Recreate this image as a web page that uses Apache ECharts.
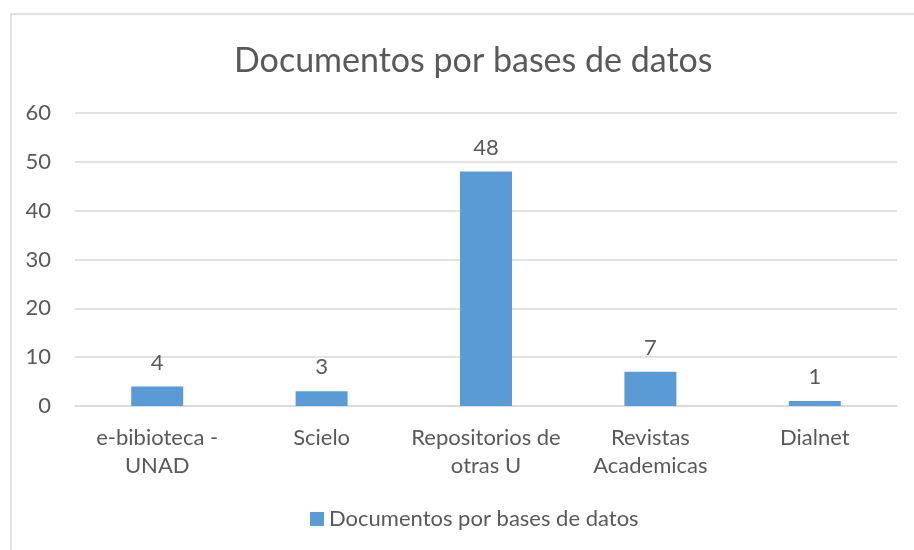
<!DOCTYPE html>
<html><head><meta charset="utf-8">
<script src="https://cdn.jsdelivr.net/npm/echarts@6/dist/echarts.min.js"></script>
<style>html,body{margin:0;padding:0;background:#fff}#c{width:914px;height:550px}</style>
</head><body><div id="c"></div>
<script>
const categories = ['e-bibioteca -\nUNAD', 'Scielo', 'Repositorios de\notras U', 'Revistas\nAcademicas', 'Dialnet'];
const values = [4, 3, 48, 7, 1];
const seriesName = 'Documentos por bases de datos';
const titleText = 'Documentos por bases de datos';

const chart = echarts.init(document.getElementById('c'), null, {renderer: 'canvas'});
const txt = '#595959';
const font = 'Lato';
chart.setOption({
  animation: false,
  backgroundColor: '#fff',
  graphic: [{
    type: 'rect', shape: {x: 11, y: 14, width: 920, height: 560},
    style: {fill: 'none', stroke: '#D9D9D9', lineWidth: 1.5}, z: -1
  }],
  title: {
    text: titleText, left: 229, top: 39,
    textStyle: {fontFamily: font, fontSize: 34, fontWeight: 'normal', color: txt}
  },
  legend: {
    bottom: 15, left: 305, itemWidth: 14, itemHeight: 14, itemGap: 6,
    icon: 'rect',
    textStyle: {fontFamily: font, fontSize: 22, color: txt}
  },
  grid: {left: 75, right: 17, top: 113, bottom: 144, containLabel: false},
  xAxis: {
    type: 'category', data: categories,
    axisLine: {lineStyle: {color: '#D9D9D9', width: 1.5}},
    axisTick: {show: false},
    axisLabel: {fontFamily: font, fontSize: 22, color: txt, margin: 18, lineHeight: 28, interval: 0}
  },
  yAxis: {
    type: 'value', min: 0, max: 60, interval: 10,
    axisLine: {show: false}, axisTick: {show: false},
    splitLine: {lineStyle: {color: '#D9D9D9', width: 1.5}},
    axisLabel: {fontFamily: font, fontSize: 22, color: txt, margin: 24}
  },
  series: [{
    name: seriesName, type: 'bar', data: values, barWidth: 52,
    itemStyle: {color: '#5B9BD5'},
    label: {show: true, position: 'top', distance: 13, fontFamily: font, fontSize: 22, color: txt}
  }]
});
</script></body></html>
